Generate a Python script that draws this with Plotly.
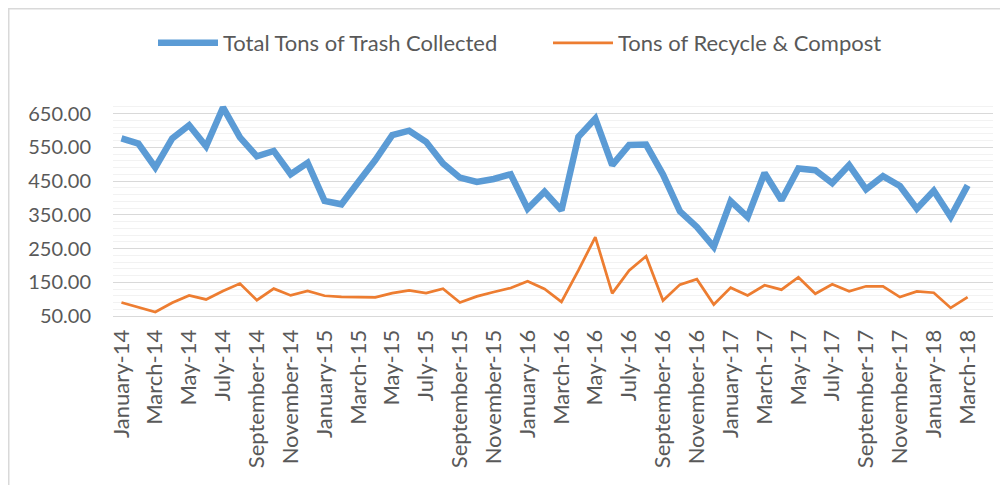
import plotly.graph_objects as go

months = [
    "January-14", "February-14", "March-14", "April-14", "May-14", "June-14",
    "July-14", "August-14", "September-14", "October-14", "November-14", "December-14",
    "January-15", "February-15", "March-15", "April-15", "May-15", "June-15",
    "July-15", "August-15", "September-15", "October-15", "November-15", "December-15",
    "January-16", "February-16", "March-16", "April-16", "May-16", "June-16",
    "July-16", "August-16", "September-16", "October-16", "November-16", "December-16",
    "January-17", "February-17", "March-17", "April-17", "May-17", "June-17",
    "July-17", "August-17", "September-17", "October-17", "November-17", "December-17",
    "January-18", "February-18", "March-18", "April-18",
]

trash = [
    576, 561, 490, 576, 615, 553, 668, 579, 523, 539, 470, 504,
    391, 381, 447, 512, 586, 599, 566, 502, 460, 447, 456, 470,
    368, 418, 363, 581, 635, 497, 557, 558, 469, 360, 314, 255,
    390, 343, 474, 393, 487, 482, 444, 497, 425, 464, 435, 368,
    421, 344, 437, None,
]

recycle = [
    90, 75, 62, 89, 111, 99, 124, 146, 97, 131, 111, 124,
    110, 107, 107, 105, 118, 126, 118, 131, 90, 108, 121, 133,
    153, 130, 92, 185, 284, 117, 185, 227, 96, 143, 159, 84,
    134, 111, 141, 128, 165, 116, 144, 123, 138, 138, 106, 123,
    119, 74, 106, None,
]

tick_months = months[0:51:2]

FONT = "Lato"
TXT = "#595959"

# page body has an 8px margin, so the figure is sized/offset to compensate
W, H = 1000, 477
ML, MT, PW, PH = 105, 92, 880, 216

fig = go.Figure()
fig.add_trace(go.Scatter(
    x=months, y=trash, mode="lines", name="Total Tons of Trash Collected",
    line=dict(color="#5B9BD5", width=6.5), connectgaps=False,
))
fig.add_trace(go.Scatter(
    x=months, y=recycle, mode="lines", name="Tons of Recycle & Compost",
    line=dict(color="#ED7D31", width=2.75), connectgaps=False,
))

fig.update_layout(
    width=W, height=H,
    margin=dict(l=ML, r=W - ML - PW, t=MT, b=H - MT - PH),
    paper_bgcolor="white", plot_bgcolor="white",
    font=dict(family=FONT, size=21, color=TXT),
    showlegend=True,
    legend=dict(
        orientation="h", x=(145 - ML) / PW, xanchor="left",
        y=1 - 14 / H, yref="container", yanchor="top",
        font=dict(size=22, color=TXT), itemwidth=60, entrywidth=320,
        entrywidthmode="pixels", bgcolor="rgba(0,0,0,0)", tracegroupgap=0,
    ),
    shapes=[dict(
        type="rect", xref="paper", yref="paper",
        x0=(0.75 - ML) / PW, x1=1.3, y0=-1.0, y1=1 + (MT - 0.75) / PH,
        line=dict(color="#D9D9D9", width=1.5), fillcolor="rgba(0,0,0,0)",
        layer="below",
    )],
)

fig.update_xaxes(
    type="category", categoryorder="array", categoryarray=months,
    range=[-0.5, 51.5], tickmode="array", tickvals=tick_months,
    tickangle=-90, showgrid=False, showline=True, linecolor="#D9D9D9",
    linewidth=1, ticks="", ticklabelstandoff=4, tickfont=dict(size=22, color=TXT),
    zeroline=False, automargin=False,
)
fig.update_yaxes(
    range=[50, 690], tick0=50, dtick=100, tickformat=".2f",
    showgrid=True, gridcolor="#D9D9D9", gridwidth=1,
    minor=dict(tick0=50, dtick=20, showgrid=True, gridcolor="#F2F2F2", gridwidth=1),
    showline=False, zeroline=False, ticks="", ticklabelstandoff=21,
    tickfont=dict(size=20, color=TXT), automargin=False,
)

fig.write_html("out.html")
